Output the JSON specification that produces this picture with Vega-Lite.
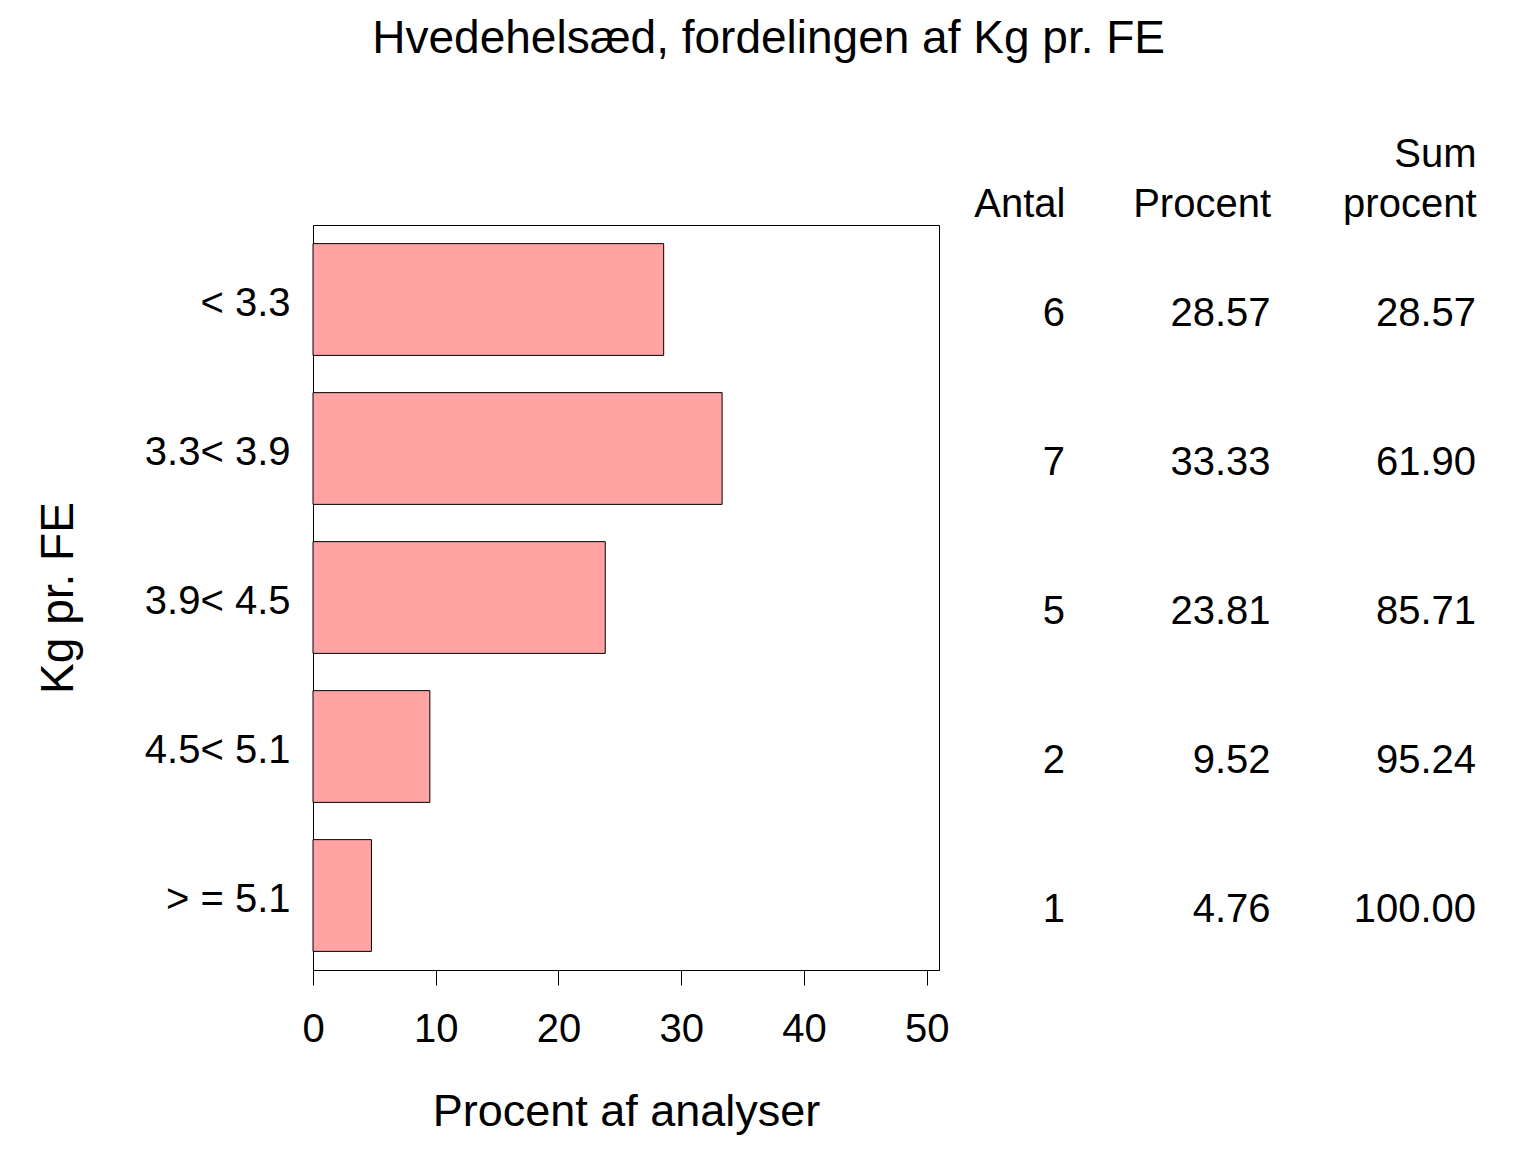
{
  "$schema": "https://vega.github.io/schema/vega-lite/v6.json",
  "background": "white",
  "padding": {"left": 35, "top": 16, "right": 20, "bottom": 10},
  "title": {
    "text": "Hvedehelsæd, fordelingen af Kg pr. FE",
    "fontSize": 46,
    "fontWeight": "normal",
    "color": "black",
    "anchor": "middle",
    "frame": "bounds",
    "dx": 13,
    "offset": 71
  },
  "data": {
    "values": [
      {"kg": "< 3.3", "Antal": 6, "Procent": 28.57, "Sum procent": 28.57},
      {"kg": "3.3< 3.9", "Antal": 7, "Procent": 33.33, "Sum procent": 61.90},
      {"kg": "3.9< 4.5", "Antal": 5, "Procent": 23.81, "Sum procent": 85.71},
      {"kg": "4.5< 5.1", "Antal": 2, "Procent": 9.52, "Sum procent": 95.24},
      {"kg": "> = 5.1", "Antal": 1, "Procent": 4.76, "Sum procent": 100.00}
    ]
  },
  "width": 626,
  "height": 745,
  "layer": [
    {
      "mark": {"type": "bar", "fill": "#ffa3a3", "stroke": "black", "strokeWidth": 1},
      "encoding": {
        "y": {
          "field": "kg",
          "type": "nominal",
          "sort": null,
          "title": "Kg pr. FE",
          "scale": {"paddingInner": 0.25, "paddingOuter": 0.125},
          "axis": {
            "ticks": false,
            "domain": false,
            "labelFontSize": 40,
            "labelAlign": "right",
            "labelPadding": 23,
            "labelOffset": 4,
            "labelColor": "black",
            "titleFontSize": 46,
            "titleFontWeight": "normal",
            "titleColor": "black",
            "titlePadding": 62
          }
        },
        "x": {
          "field": "Procent",
          "type": "quantitative",
          "title": "Procent af analyser",
          "scale": {"domain": [0, 51], "nice": false},
          "axis": {
            "values": [0, 10, 20, 30, 40, 50],
            "grid": false,
            "domainColor": "black",
            "tickColor": "black",
            "tickSize": 15,
            "labelFontSize": 40,
            "labelColor": "black",
            "labelPadding": 24,
            "labelFlush": false,
            "titleFontSize": 45,
            "titleFontWeight": "normal",
            "titleColor": "black",
            "titlePadding": 40
          }
        }
      }
    },
    {
      "transform": [{"fold": ["Antal", "Procent", "Sum procent"], "as": ["kolonne", "tal"]}],
      "mark": {"type": "text", "align": "right", "baseline": "middle", "dy": 14, "fontSize": 40, "color": "black"},
      "encoding": {
        "y": {"field": "kg", "type": "nominal", "sort": null},
        "x": {
          "field": "kolonne",
          "type": "nominal",
          "title": null,
          "scale": {"type": "point", "domain": ["Antal", "Procent", "Sum procent"], "range": [752, 1163], "padding": 0},
          "axis": {
            "orient": "top",
            "domain": false,
            "ticks": false,
            "tickSize": 0,
            "labelAngle": 0,
            "labelAlign": "right",
            "labelBaseline": "bottom",
            "labelFontSize": 40,
            "labelLineHeight": 50,
            "labelColor": "black",
            "labelPadding": 51,
            "labelExpr": "datum.label === 'Sum procent' ? ['Sum', 'procent'] : ['', datum.label]"
          }
        },
        "text": {
          "condition": {"test": "datum.kolonne === 'Antal'", "field": "tal", "type": "quantitative", "format": "d"},
          "field": "tal",
          "type": "quantitative",
          "format": ".2f"
        }
      }
    }
  ],
  "resolve": {"scale": {"x": "independent"}, "axis": {"x": "independent"}},
  "config": {
    "font": "Liberation Sans",
    "view": {"stroke": "black", "strokeWidth": 1}
  }
}
